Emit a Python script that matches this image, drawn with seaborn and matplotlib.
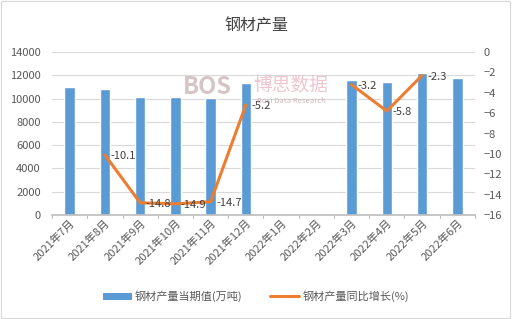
import numpy as np
import pandas as pd
import matplotlib
matplotlib.use("Agg")
import matplotlib.pyplot as plt
import seaborn as sns
from matplotlib.lines import Line2D
from matplotlib.patches import Patch

categories = ["2021年7月", "2021年8月", "2021年9月", "2021年10月", "2021年11月", "2021年12月",
              "2022年1月", "2022年2月", "2022年3月", "2022年4月", "2022年5月", "2022年6月"]
output = [11010, 10850, 10150, 10150, 10070, 11300, np.nan, np.nan, 11620, 11450, 12220, 11790]
growth = [np.nan, -10.1, -14.8, -14.9, -14.7, -5.2, np.nan, np.nan, -3.2, -5.8, -2.3, np.nan]
segment = [0, 0, 0, 0, 0, 0, 1, 1, 1, 1, 1, 1]

sns.set_theme(style="white")
plt.rcParams['font.family'] = ['Noto Sans CJK SC', 'DejaVu Sans']

bar_color = "#5B9BD5"
line_color = "#ED7D31"

fig = plt.figure(figsize=(5.12, 3.19), dpi=100)
ax = fig.add_axes([0.1016, 0.326, 0.826, 0.511])

df = pd.DataFrame({"cat": categories, "output": output, "growth": growth,
                   "pos": np.arange(len(categories)), "seg": segment})

sns.barplot(data=df, x="cat", y="output", ax=ax, color=bar_color, width=0.3,
            saturation=1, order=categories)
ax.set_ylim(0, 14000)
ax.set_yticks(np.arange(0, 14001, 2000))
ax.set_xlim(-0.5, len(categories) - 0.5)
ax.grid(axis="y", color="#D9D9D9", linewidth=0.8)
ax.set_axisbelow(True)
for s in ["left", "right", "top"]:
    ax.spines[s].set_visible(False)
ax.spines["bottom"].set_color("#BFBFBF")
ax.set_xlabel("")
ax.set_ylabel("")
ax.tick_params(axis="y", labelsize=8, colors="#595959", length=0, pad=8)
ax.tick_params(axis="x", labelsize=8, colors="#595959", length=0, pad=2)
ax.set_xticks(np.arange(len(categories)))
ax.set_xticklabels(categories, rotation=45, ha="right", rotation_mode="anchor")
for b in np.arange(-0.5, len(categories), 1.0):
    ax.plot([b, b], [0, -250], color="#BFBFBF", lw=0.8, clip_on=False)

# watermark (behind the line)
fig.text(0.406, 0.728, "BOS", fontsize=17, color="#C9B2B4", alpha=0.75, ha="center",
         va="center", fontweight="bold", zorder=0)
fig.text(0.567, 0.735, "博思数据", fontsize=13.5, color="#EBB8C4", alpha=0.8, ha="center",
         va="center", zorder=0)
fig.text(0.57, 0.682, "Bosi Data Research", fontsize=5.5, color="#C8A8AE", alpha=0.8,
         ha="center", va="center", zorder=0)

ax2 = ax.twinx()
dl = df.dropna(subset=["growth"])
sns.lineplot(data=dl, x="pos", y="growth", units="seg", estimator=None, ax=ax2,
             color=line_color, linewidth=2.2, sort=False)
ax2.set_ylim(-16, 0)
ax2.set_yticks(np.arange(-16, 1, 2))
ax2.set_xlim(-0.5, len(categories) - 0.5)
for s in ["left", "right", "top", "bottom"]:
    ax2.spines[s].set_visible(False)
ax2.set_ylabel("")
ax2.set_xlabel("")
ax2.tick_params(axis="y", labelsize=8, colors="#595959", length=0, pad=6)
ax2.grid(False)

for p, v in zip(dl["pos"], dl["growth"]):
    ax2.annotate(f"{v:.1f}", (p, v), xytext=(4, -1), textcoords="offset points",
                 ha="left", va="center", fontsize=8, color="#404040")

fig.text(0.5, 0.92, "钢材产量", ha="center", va="center", fontsize=11.5, color="#404040")

handles = [Patch(facecolor=bar_color, edgecolor="none"),
           Line2D([0], [0], color=line_color, lw=2.2)]
fig.legend(handles, ["钢材产量当期值(万吨)", "钢材产量同比增长(%)"], loc="center",
           bbox_to_anchor=(0.5, 0.07), ncol=2, frameon=False, fontsize=8,
           handlelength=2.6, handleheight=0.7, columnspacing=2.5, handletextpad=0.3,
           labelcolor="#595959")

border = plt.Rectangle((0.002, 0.003), 0.995, 0.994, transform=fig.transFigure,
                       fill=False, edgecolor="#D9D9D9", lw=0.8)
fig.patches.append(border)

fig.savefig("out.png", dpi=100)
